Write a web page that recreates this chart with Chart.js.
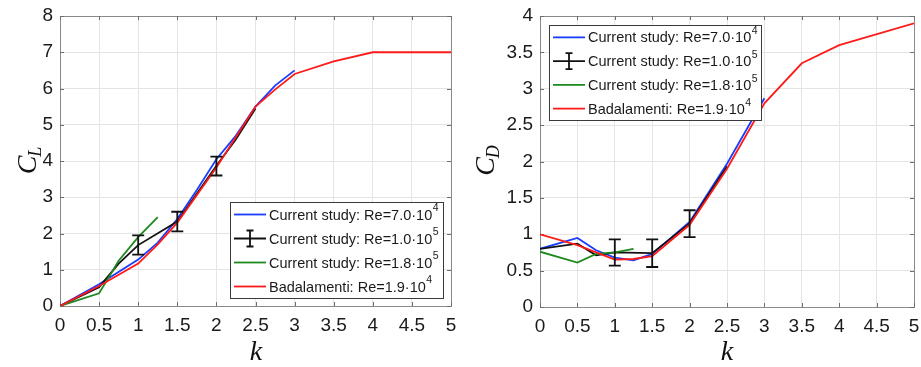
<!DOCTYPE html>
<html>
<head>
<meta charset="utf-8">
<script src="https://cdn.jsdelivr.net/npm/chart.js@4/dist/chart.umd.min.js"></script>
<style>
  html, body { margin: 0; padding: 0; background: #fff; }
  #wrap { position: relative; width: 921px; height: 367px; overflow: hidden; }
  .c { position: absolute; top: 0; }
</style>
</head>
<body>
<div id="wrap">
  <canvas id="cl" class="c" width="460" height="367" style="left:0px"></canvas>
  <canvas id="cd" class="c" width="461" height="367" style="left:460px"></canvas>
</div>
<script>
// ---------- Data ----------
const xTicks = [0, 0.5, 1, 1.5, 2, 2.5, 3, 3.5, 4, 4.5, 5];
const clTicks = [0, 1, 2, 3, 4, 5, 6, 7, 8];
const cdTicks = [0, 0.5, 1, 1.5, 2, 2.5, 3, 3.5, 4];

const legendLabels = [
  { main: "Current study: Re=7.0\u00B710", sup: "4" },
  { main: "Current study: Re=1.0\u00B710", sup: "5" },
  { main: "Current study: Re=1.8\u00B710", sup: "5" },
  { main: "Badalamenti: Re=1.9\u00B710", sup: "4" }
];

// Lift coefficient C_L
const clBlueK  = [0, 0.5, 1, 1.25, 1.5, 1.75, 2, 2.25, 2.5, 2.75, 3];
const clBlueV  = [0, 0.6, 1.28, 1.75, 2.4, 3.2, 4.05, 4.7, 5.5, 6.08, 6.5];
const clBlackK = [0, 0.5, 0.75, 1, 1.5, 2, 2.25, 2.5];
const clBlackV = [0, 0.52, 1.17, 1.68, 2.33, 3.87, 4.6, 5.45];
const clBlackLo = [null, null, null, 1.42, 2.06, 3.6, null, null];
const clBlackHi = [null, null, null, 1.95, 2.6, 4.12, null, null];
const clGreenK = [0, 0.5, 0.75, 1, 1.25];
const clGreenV = [0, 0.35, 1.25, 1.9, 2.45];
const clRedK   = [0, 0.5, 1, 1.25, 1.5, 2, 2.5, 2.75, 3, 3.5, 4, 5];
const clRedV   = [0, 0.55, 1.17, 1.7, 2.3, 3.82, 5.5, 5.97, 6.4, 6.75, 7.0, 7.0];

// Drag coefficient C_D
const cdBlueK  = [0, 0.5, 0.75, 1, 1.25, 1.5, 2, 2.5, 3];
const cdBlueV  = [0.8, 0.95, 0.78, 0.68, 0.64, 0.73, 1.17, 1.97, 2.87];
const cdBlackK = [0, 0.5, 0.75, 1, 1.5, 2, 2.5];
const cdBlackV = [0.8, 0.87, 0.71, 0.75, 0.74, 1.15, 1.93];
const cdBlackLo = [null, null, null, 0.57, 0.55, 0.96, null];
const cdBlackHi = [null, null, null, 0.93, 0.93, 1.33, null];
const cdGreenK = [0, 0.5, 0.75, 1, 1.25];
const cdGreenV = [0.76, 0.61, 0.73, 0.75, 0.8];
const cdRedK   = [0, 0.5, 1, 1.25, 1.5, 2, 2.5, 3, 3.5, 4, 5];
const cdRedV   = [1.0, 0.85, 0.65, 0.66, 0.7, 1.13, 1.9, 2.8, 3.35, 3.6, 3.9];

// ---------- Styling ----------
const COL = { blue: '#1a3cff', black: '#111111', green: '#1e8a1e', red: '#ff1a1a' };
const TICK_FONT = { family: "'Liberation Sans', Arial, Helvetica, sans-serif", size: 19 };
const LEG_FONT = "14.5px 'Liberation Sans', Arial, sans-serif";
const SUP_FONT = "10.5px 'Liberation Sans', Arial, sans-serif";
const LABEL_FONT = "italic 28px 'Liberation Serif', 'DejaVu Serif', serif";
const SUB_FONT = "italic 18px 'Liberation Serif', 'DejaVu Serif', serif";

function pts(ks, vs) { return ks.map((k, i) => ({ x: k, y: vs[i] })); }

function ds(label, ks, vs, color, order, lo, hi) {
  return {
    label, data: pts(ks, vs), borderColor: color, backgroundColor: color,
    borderWidth: 1.8, pointRadius: 0, tension: 0, order,
    errLo: lo || null, errHi: hi || null
  };
}

const errorBarPlugin = {
  id: 'errorBars',
  afterDatasetsDraw(chart) {
    const { ctx, scales: { x, y } } = chart;
    chart.data.datasets.forEach((d) => {
      if (!d.errLo) return;
      ctx.save();
      ctx.strokeStyle = d.borderColor;
      ctx.lineWidth = 1.8;
      d.data.forEach((p, i) => {
        if (d.errLo[i] == null) return;
        const px = x.getPixelForValue(p.x);
        const y1 = y.getPixelForValue(d.errLo[i]);
        const y2 = y.getPixelForValue(d.errHi[i]);
        const cap = 6;
        ctx.beginPath();
        ctx.moveTo(px, y1); ctx.lineTo(px, y2);
        ctx.moveTo(px - cap, y1); ctx.lineTo(px + cap, y1);
        ctx.moveTo(px - cap, y2); ctx.lineTo(px + cap, y2);
        ctx.stroke();
      });
      ctx.restore();
    });
  }
};

const framePlugin = {
  id: 'frame',
  beforeDatasetsDraw(chart) {
    const { ctx, chartArea: a } = chart;
    ctx.save();
    ctx.strokeStyle = '#8a8a8a';
    ctx.lineWidth = 1;
    ctx.strokeRect(Math.round(a.left) + 0.5, Math.round(a.top) + 0.5,
                   Math.round(a.right - a.left), Math.round(a.bottom - a.top));
    const x = chart.scales.x, y = chart.scales.y;
    ctx.strokeStyle = '#6e6e6e';
    ctx.beginPath();
    x.ticks.forEach(t => {
      const px = Math.round(x.getPixelForValue(t.value)) + 0.5;
      ctx.moveTo(px, a.bottom); ctx.lineTo(px, a.bottom - 4);
      ctx.moveTo(px, a.top); ctx.lineTo(px, a.top + 4);
    });
    y.ticks.forEach(t => {
      const py = Math.round(y.getPixelForValue(t.value)) + 0.5;
      ctx.moveTo(a.left, py); ctx.lineTo(a.left + 4, py);
      ctx.moveTo(a.right, py); ctx.lineTo(a.right - 4, py);
    });
    ctx.stroke();
    ctx.restore();
  }
};

const labelsPlugin = {
  id: 'axisLabels',
  afterDraw(chart, args, opts) {
    const { ctx } = chart;
    ctx.save();
    ctx.fillStyle = '#111';
    ctx.font = LABEL_FONT;
    ctx.textAlign = 'center';
    ctx.textBaseline = 'alphabetic';
    ctx.fillText('k', opts.kx, opts.ky);
    ctx.translate(opts.cx, opts.cy);
    ctx.rotate(-Math.PI / 2);
    ctx.textAlign = 'left';
    ctx.font = LABEL_FONT;
    const wC = ctx.measureText('C').width;
    ctx.font = SUB_FONT;
    const wS = ctx.measureText(opts.sub).width;
    const x0 = -(wC + wS) / 2;
    ctx.font = LABEL_FONT;
    ctx.fillText('C', x0, 0);
    ctx.font = SUB_FONT;
    ctx.fillText(opts.sub, x0 + wC - 1, 5);
    ctx.restore();
  }
};

const legendPlugin = {
  id: 'boxLegend',
  afterDraw(chart, args, opts) {
    const { ctx } = chart;
    const { left, top, width, height } = opts;
    ctx.save();
    ctx.fillStyle = '#fff';
    ctx.fillRect(left, top, width, height);
    ctx.strokeStyle = '#3a3a3a';
    ctx.lineWidth = 1;
    ctx.strokeRect(left + 0.5, top + 0.5, width, height);
    const colors = [COL.blue, COL.black, COL.green, COL.red];
    const rowH = height / 4;
    for (let i = 0; i < 4; i++) {
      const cy = top + rowH * (i + 0.5) + 0.5;
      const x1 = left + 4, x2 = left + 36;
      ctx.strokeStyle = colors[i];
      ctx.lineWidth = 1.8;
      ctx.beginPath();
      ctx.moveTo(x1, cy); ctx.lineTo(x2, cy);
      if (i === 1) {
        const mx = (x1 + x2) / 2;
        ctx.moveTo(mx, cy - 8); ctx.lineTo(mx, cy + 8);
        ctx.moveTo(mx - 3.5, cy - 8); ctx.lineTo(mx + 3.5, cy - 8);
        ctx.moveTo(mx - 3.5, cy + 8); ctx.lineTo(mx + 3.5, cy + 8);
      }
      ctx.stroke();
      ctx.fillStyle = '#1a1a1a';
      ctx.textAlign = 'left';
      ctx.textBaseline = 'middle';
      ctx.font = LEG_FONT;
      const tx = x2 + 3;
      ctx.fillText(legendLabels[i].main, tx, cy + 1);
      const w = ctx.measureText(legendLabels[i].main).width;
      ctx.font = SUP_FONT;
      ctx.fillText(legendLabels[i].sup, tx + w + 0.5, cy - 6);
    }
    ctx.restore();
  }
};

function makeChart(id, datasets, yTicks, yMax, layout) {
  return new Chart(document.getElementById(id), {
    type: 'line',
    data: { datasets },
    options: {
      responsive: false,
      animation: false,
      devicePixelRatio: 1,
      layout: { padding: { left: 0, right: layout.padRight, top: layout.padTop, bottom: 0 } },
      plugins: {
        legend: { display: false },
        tooltip: { enabled: false },
        boxLegend: layout.legend,
        axisLabels: layout.labels
      },
      scales: {
        x: {
          type: 'linear', min: 0, max: 5,
          afterBuildTicks: (s) => { s.ticks = xTicks.map(v => ({ value: v })); },
          afterFit: (s) => { s.height = layout.xHeight; s.paddingLeft = 0; s.paddingRight = 0; },
          ticks: { font: TICK_FONT, color: '#1a1a1a', padding: 8, maxRotation: 0,
                   callback: (v) => String(v) },
          grid: { color: '#e4e4e4', lineWidth: 1, drawTicks: false },
          border: { display: false }
        },
        y: {
          type: 'linear', min: 0, max: yMax,
          afterBuildTicks: (s) => { s.ticks = yTicks.map(v => ({ value: v })); },
          afterFit: (s) => { s.width = layout.yWidth; s.paddingTop = 0; s.paddingBottom = 0; },
          ticks: { font: TICK_FONT, color: '#1a1a1a', padding: 7,
                   callback: (v) => String(v) },
          grid: { color: '#e4e4e4', lineWidth: 1, drawTicks: false },
          border: { display: false }
        }
      }
    },
    plugins: [framePlugin, errorBarPlugin, legendPlugin, labelsPlugin]
  });
}

makeChart('cl', [
  ds('Current study: Re=7.0e4', clBlueK, clBlueV, COL.blue, 3),
  ds('Current study: Re=1.0e5', clBlackK, clBlackV, COL.black, 2, clBlackLo, clBlackHi),
  ds('Current study: Re=1.8e5', clGreenK, clGreenV, COL.green, 1),
  ds('Badalamenti: Re=1.9e4', clRedK, clRedV, COL.red, 0)
], clTicks, 8, {
  padRight: 9, padTop: 16, xHeight: 61, yWidth: 60,
  legend: { left: 230, top: 202, width: 213, height: 96 },
  labels: { kx: 256, ky: 360, cx: 36, cy: 160, sub: 'L' }
});

makeChart('cd', [
  ds('Current study: Re=7.0e4', cdBlueK, cdBlueV, COL.blue, 3),
  ds('Current study: Re=1.0e5', cdBlackK, cdBlackV, COL.black, 2, cdBlackLo, cdBlackHi),
  ds('Current study: Re=1.8e5', cdGreenK, cdGreenV, COL.green, 1),
  ds('Badalamenti: Re=1.9e4', cdRedK, cdRedV, COL.red, 0)
], cdTicks, 4, {
  padRight: 7, padTop: 16, xHeight: 60, yWidth: 80,
  legend: { left: 89, top: 25, width: 212, height: 95 },
  labels: { kx: 267, ky: 360, cx: 34, cy: 160, sub: 'D' }
});
</script>
</body>
</html>
